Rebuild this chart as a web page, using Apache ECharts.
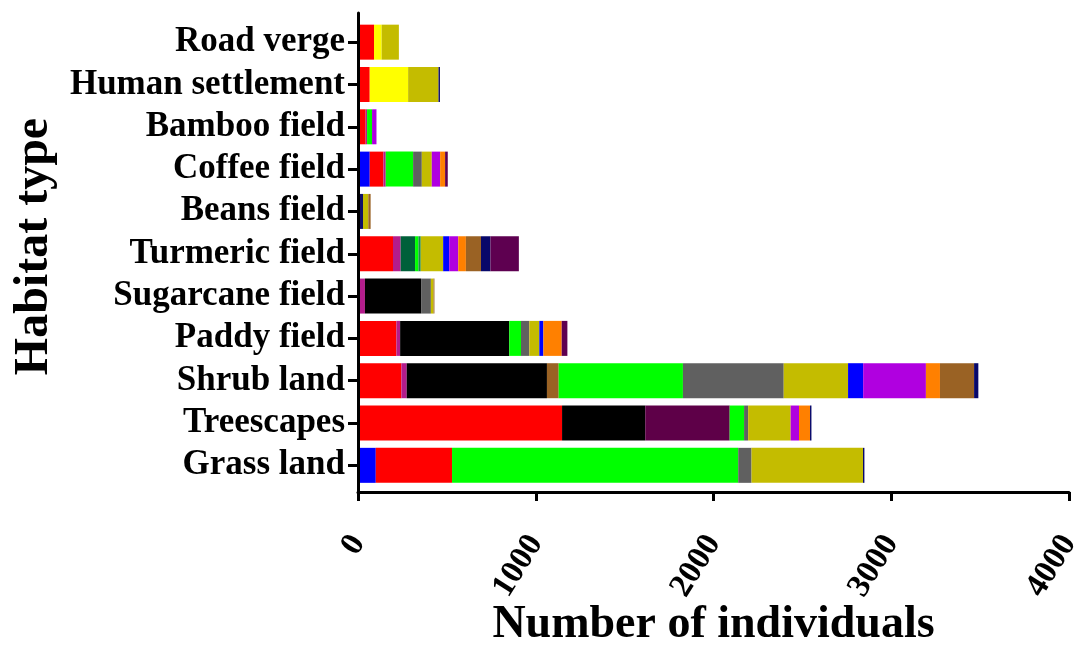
<!DOCTYPE html>
<html>
<head>
<meta charset="utf-8">
<script src="https://cdn.jsdelivr.net/npm/echarts@6/dist/echarts.min.js"></script>
<style>html,body{margin:0;padding:0;background:#fff}#c{width:1085px;height:651px}</style>
</head>
<body>
<div id="c"></div>
<script>
// Categories, bottom to top
const categories = ['Grass land','Treescapes','Shrub land','Paddy field','Sugarcane field','Turmeric field','Beans field','Coffee field','Bamboo field','Human settlement','Road verge'];
const xTicks = [0, 1000, 2000, 3000, 4000];

// Stacked segment values (same order as categories)
const navyStart   = [0,    0,    0,    0,    0,   0,   28, 0,   0,  0,   0];
const blueStart   = [100,  0,    0,    0,    0,   0,   0,  66,  0,  0,   0];
const red         = [429,  1148, 244,  216,  0,   197, 0,  77,  43, 66,  90];
const magenta     = [0,    0,    30,   21,   39,  43,  0,  13,  8,  0,   0];
const black       = [0,    468,  789,  614,  316, 0,   0,  0,   0,  0,   0];
const brownA      = [0,    0,    66,   0,    0,   0,   0,  0,   0,  0,   0];
const plumA       = [0,    475,  0,    0,    0,   0,   0,  0,   0,  0,   0];
const darkGreen   = [0,    0,    0,    0,    0,   81,  0,  0,   0,  0,   0];
const green       = [1610, 81,   699,  66,   0,   19,  0,  154, 28, 0,   0];
const teal        = [0,    0,    0,    0,    0,   13,  0,  0,   0,  0,   0];
const yellow      = [0,    0,    0,    0,    0,   0,   0,  0,   0,  216, 43];
const gray        = [75,   23,   567,  47,   55,  0,   0,  49,  0,  0,   0];
const olive       = [627,  239,  362,  56,   15,  126, 30, 56,  0,  171, 97];
const blueB       = [0,    0,    85,   23,   0,   34,  0,  0,   0,  0,   0];
const violet      = [0,    47,   353,  0,    0,   51,  0,  47,  25, 0,   0];
const orange      = [0,    62,   79,   103,  0,   43,  0,  28,  0,  0,   0];
const brownB      = [0,    0,    192,  0,    5,   85,  13, 0,   0,  0,   0];
const navyEnd     = [8,    8,    24,   0,    0,   53,  0,  0,   0,  8,   0];
const plumB       = [0,    0,    0,    32,   0,   160, 0,  15,  0,  0,   0];

const seriesDefs = [
  ['navyStart', navyStart, '#10106a'],
  ['blueStart', blueStart, '#0000ff'],
  ['red', red, '#ff0000'],
  ['magenta', magenta, '#b41c8c'],
  ['black', black, '#000000'],
  ['brownA', brownA, '#9a6224'],
  ['plumA', plumA, '#5e0048'],
  ['darkGreen', darkGreen, '#00603a'],
  ['green', green, '#00ff00'],
  ['teal', teal, '#1c8a4a'],
  ['yellow', yellow, '#ffff00'],
  ['gray', gray, '#606060'],
  ['olive', olive, '#c4bc00'],
  ['blueB', blueB, '#0000ff'],
  ['violet', violet, '#b000e0'],
  ['orange', orange, '#ff8000'],
  ['brownB', brownB, '#9a6224'],
  ['navyEnd', navyEnd, '#08086a'],
  ['plumB', plumB, '#5e0050']
];

const FONT = '"Liberation Serif", "Times New Roman", serif';
const chart = echarts.init(document.getElementById('c'), null, {renderer: 'canvas'});

chart.setOption({
  animation: false,
  backgroundColor: '#ffffff',
  grid: [
    {left: 358, right: 16, top: 13, bottom: 159, containLabel: false, outerBoundsMode: 'none'},
    {left: 358, right: 16, top: 21, bottom: 164.5, containLabel: false, outerBoundsMode: 'none'}
  ],
  xAxis: [
    {
      gridIndex: 0, type: 'value', min: xTicks[0], max: xTicks[xTicks.length - 1], interval: 1000,
      z: 10,
      axisLine: {show: true, lineStyle: {color: '#000', width: 3}},
      axisTick: {show: true, length: 9, lineStyle: {color: '#000', width: 3}},
      splitLine: {show: false},
      axisLabel: {rotate: 58, margin: 46, fontFamily: FONT, fontWeight: 'bold', fontSize: 33, color: '#000',
        formatter: v => String(v)},
      name: 'Number of individuals', nameLocation: 'middle', nameGap: 110, nameMoveOverlap: false,
      nameTextStyle: {fontFamily: FONT, fontWeight: 'bold', fontSize: 46, color: '#000'}
    },
    {
      gridIndex: 1, type: 'value', min: 0, max: 4000, show: false
    }
  ],
  yAxis: [
    {
      gridIndex: 0, type: 'value', min: 0, max: 1, z: 10,
      axisLine: {show: true, lineStyle: {color: '#000', width: 3}},
      axisTick: {show: false}, axisLabel: {show: false}, splitLine: {show: false},
      name: 'Habitat type', nameLocation: 'middle', nameGap: 299, nameRotate: 90, nameMoveOverlap: false,
      nameTextStyle: {fontFamily: FONT, fontWeight: 'bold', fontSize: 48, color: '#000', padding: [0, 0, 0, 12]}
    },
    {
      gridIndex: 1, type: 'category', data: categories, z: 10,
      axisLine: {show: false},
      axisTick: {show: true, alignWithLabel: true, interval: 0, length: 10, lineStyle: {color: '#000', width: 3}},
      axisLabel: {interval: 0, margin: 13, fontFamily: FONT, fontWeight: 'bold', fontSize: 35, color: '#000'}
    }
  ],
  series: seriesDefs.map(([name, data, color]) => ({
    name, type: 'bar', stack: 'total', xAxisIndex: 1, yAxisIndex: 1,
    data, barWidth: 35, itemStyle: {color}
  }))
});
</script>
</body>
</html>
